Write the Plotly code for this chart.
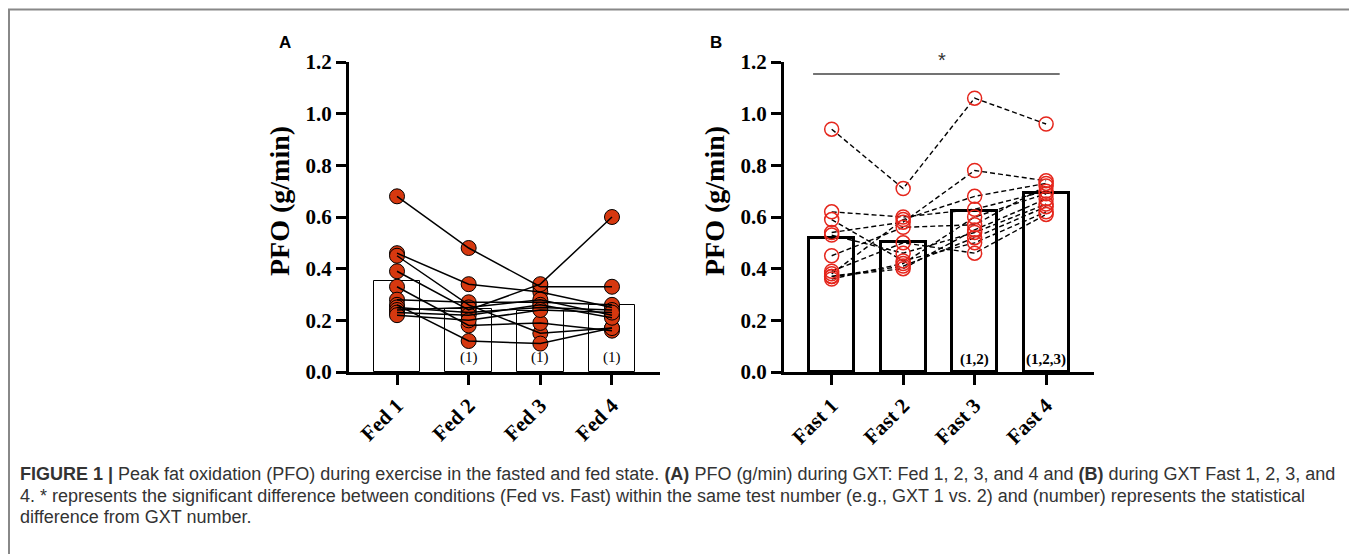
import plotly.graph_objects as go

# ---------------- data ----------------
fed_labels = ["Fed 1", "Fed 2", "Fed 3", "Fed 4"]
fast_labels = ["Fast 1", "Fast 2", "Fast 3", "Fast 4"]
y_ticks = [0.0, 0.2, 0.4, 0.6, 0.8, 1.0, 1.2]

fed_bar = [0.352, 0.244, 0.236, 0.259]
fast_bar = [0.520, 0.502, 0.623, 0.692]

# individual subjects (same subject order in each list)
fed1 = [0.68, 0.46, 0.45, 0.39, 0.33, 0.28, 0.26, 0.25, 0.24, 0.23, 0.22]
fed2 = [0.48, 0.34, 0.26, 0.24, 0.18, 0.27, 0.12, 0.23, 0.25, 0.22, 0.20]
fed3 = [0.33, 0.31, 0.15, 0.34, 0.19, 0.27, 0.11, 0.25, 0.28, 0.26, 0.24]
fed4 = [0.33, 0.25, 0.17, 0.60, 0.16, 0.26, 0.17, 0.24, 0.22, 0.21, 0.23]

fast1 = [0.94, 0.62, 0.59, 0.54, 0.53, 0.45, 0.39, 0.38, 0.37, 0.37, 0.36]
fast2 = [0.71, 0.60, 0.43, 0.58, 0.46, 0.56, 0.50, 0.59, 0.40, 0.41, 0.42]
fast3 = [1.06, 0.63, 0.50, 0.78, 0.54, 0.57, 0.46, 0.68, 0.55, 0.52, 0.60]
fast4 = [0.96, 0.70, 0.62, 0.74, 0.65, 0.72, 0.61, 0.73, 0.67, 0.64, 0.69]

fed_sig = ["(1)", "(1)", "(1)"]
fed_sig_x = [1, 2, 3]
fast_sig = ["(1,2)", "(1,2,3)"]
fast_sig_x = [2, 3]

caption_lines = [
    "<b>FIGURE 1 |</b> Peak fat oxidation (PFO) during exercise in the fasted and fed state. <b>(A)</b> PFO (g/min) during GXT: Fed 1, 2, 3, and 4 and <b>(B)</b> during GXT Fast 1, 2, 3, and",
    "4. * represents the significant difference between conditions (Fed vs. Fast) within the same test number (e.g., GXT 1 vs. 2) and (number) represents the statistical",
    "difference from GXT number.",
]

# ---------------- figure ----------------
OFF = 8  # page body margin
W, H = 1357 - OFF, 554 - OFF
SERIF = "Liberation Serif, Times New Roman, serif"
SANS = "Liberation Sans, Arial, sans-serif"
xs = [0, 1, 2, 3]

fig = go.Figure()

fig.add_trace(go.Bar(x=xs, y=fed_bar, width=0.65, marker=dict(color="white", line=dict(color="black", width=1)),
                     xaxis="x", yaxis="y", showlegend=False))
fig.add_trace(go.Bar(x=xs, y=fast_bar, width=0.63, marker=dict(color="white", line=dict(color="black", width=3)),
                     xaxis="x2", yaxis="y2", showlegend=False))

fed_subjects = list(zip(fed1, fed2, fed3, fed4))
fast_subjects = list(zip(fast1, fast2, fast3, fast4))

for s in fed_subjects:
    fig.add_trace(go.Scatter(x=xs, y=list(s), mode="markers",
                             marker=dict(size=15, color="#D6380F", line=dict(color="black", width=1)),
                             xaxis="x", yaxis="y", showlegend=False))
for s in fed_subjects:
    fig.add_trace(go.Scatter(x=xs, y=list(s), mode="lines", line=dict(color="black", width=1.5),
                             xaxis="x", yaxis="y", showlegend=False))

for s in fast_subjects:
    fig.add_trace(go.Scatter(x=xs, y=list(s), mode="lines", line=dict(color="black", width=1.4, dash="5px,3px"),
                             xaxis="x2", yaxis="y2", showlegend=False))
for s in fast_subjects:
    fig.add_trace(go.Scatter(x=xs, y=list(s), mode="markers",
                             marker=dict(size=14, color="rgba(0,0,0,0)", line=dict(color="#E5261C", width=1.5)),
                             xaxis="x2", yaxis="y2", showlegend=False))

def px_x(p):
    return (p - OFF) / W

def px_y(p):
    return 1 - (p - OFF) / H

axis_common = dict(showline=True, linecolor="black", linewidth=3, ticks="outside", ticklen=10,
                   tickwidth=2.5, tickcolor="black", showgrid=False, zeroline=False, automargin=False)
xtick_font = dict(family=SERIF, size=21, color="black", weight="bold")
ytick_font = dict(family=SERIF, size=21, color="black", weight="bold")

fig.update_layout(
    template="none",
    width=W, height=H, margin=dict(l=0, r=0, t=0, b=0, pad=0, autoexpand=False),
    paper_bgcolor="white", plot_bgcolor="white", bargap=0, showlegend=False,
    xaxis=dict(domain=[px_x(349), px_x(660)], range=[-0.67, 3.67], tickvals=xs, ticktext=fed_labels,
               tickangle=-45, tickfont=xtick_font, anchor="y", **axis_common),
    yaxis=dict(domain=[px_y(372), px_y(62)], range=[0, 1.2], tickvals=y_ticks,
               ticktext=[f"{v:.1f}" for v in y_ticks], tickfont=ytick_font, anchor="x", **axis_common),
    xaxis2=dict(domain=[px_x(784), px_x(1094)], range=[-0.667, 3.67], tickvals=xs, ticktext=fast_labels,
                tickangle=-45, tickfont=xtick_font, anchor="y2", **axis_common),
    yaxis2=dict(domain=[px_y(372), px_y(62)], range=[0, 1.2], tickvals=y_ticks,
                ticktext=[f"{v:.1f}" for v in y_ticks], tickfont=ytick_font, anchor="x2", **axis_common),
)

annotations = []
for xp in (279, 714):
    annotations.append(dict(x=px_x(xp), y=px_y(201), xref="paper", yref="paper", text="<b>PFO (g/min)</b>",
                            textangle=-90, showarrow=False, font=dict(family=SERIF, size=28, color="black"),
                            xanchor="center", yanchor="middle"))
annotations.append(dict(x=px_x(285), y=px_y(42), xref="paper", yref="paper", text="<b>A</b>", showarrow=False,
                        font=dict(family=SANS, size=17, color="black"), xanchor="center", yanchor="middle"))
annotations.append(dict(x=px_x(716), y=px_y(42), xref="paper", yref="paper", text="<b>B</b>", showarrow=False,
                        font=dict(family=SANS, size=17, color="black"), xanchor="center", yanchor="middle"))
for xv, t in zip(fed_sig_x, fed_sig):
    annotations.append(dict(x=xv, y=0.055, xref="x", yref="y", text=t, showarrow=False,
                            font=dict(family=SERIF, size=15, color="black"), yanchor="middle"))
for xv, t in zip(fast_sig_x, fast_sig):
    annotations.append(dict(x=xv, y=0.05, xref="x2", yref="y2", text=f"<b>{t}</b>", showarrow=False,
                            font=dict(family=SERIF, size=15, color="black"), yanchor="middle"))
annotations.append(dict(x=px_x(942), y=px_y(60), xref="paper", yref="paper", text="*", showarrow=False,
                        font=dict(family=SANS, size=20, color="#333"), xanchor="center", yanchor="middle"))
for i, line in enumerate(caption_lines):
    annotations.append(dict(x=px_x(18), y=px_y(474 + 21.5 * i), xref="paper", yref="paper", text=line,
                            showarrow=False, xanchor="left", yanchor="middle", align="left",
                            font=dict(family=SANS, size=18, color="#333")))
fig.update_layout(annotations=annotations)

shapes = [
    dict(type="line", xref="x2", yref="y2", x0=-0.26, x1=3.19, y0=1.154, y1=1.154,
         line=dict(color="#444", width=1.5)),
    dict(type="rect", xref="paper", yref="paper", x0=px_x(9), x1=px_x(1355), y0=-0.2, y1=px_y(9.5),
         line=dict(color="#888", width=2), fillcolor="rgba(0,0,0,0)", layer="below"),
]
fig.update_layout(shapes=shapes)

fig.write_html("out.html")
